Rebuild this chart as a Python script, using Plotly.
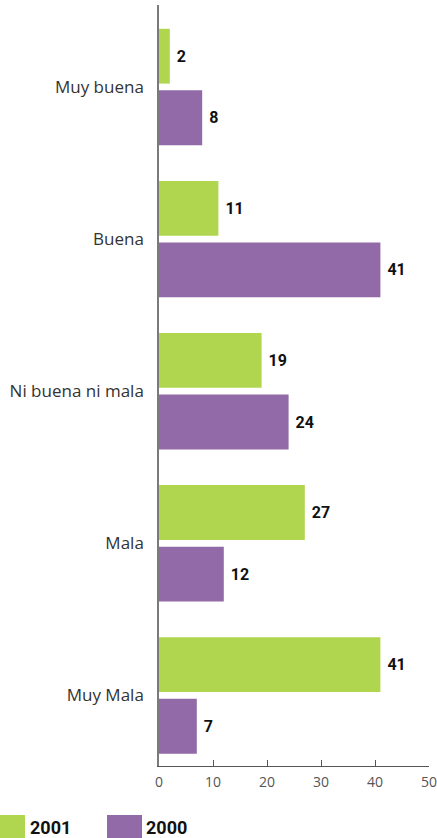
import plotly.graph_objects as go

categories = ["Muy buena", "Buena", "Ni buena ni mala", "Mala", "Muy Mala"]
values_2001 = [2, 11, 19, 27, 41]
values_2000 = [8, 41, 24, 12, 7]
series_names = ["2001", "2000"]
colors = ["#B0D64F", "#926AA8"]
x_ticks = [0, 10, 20, 30, 40, 50]

W, H = 437, 838
L, R, T, B = 159, 8, 5, 838 - 766

num_family = "Roboto, Liberation Sans, sans-serif"

fig = go.Figure()
for name, vals, col in zip(series_names, [values_2001, values_2000], colors):
    fig.add_trace(go.Bar(
        y=categories, x=vals, name=name, orientation="h",
        marker=dict(color=col, line=dict(width=0)),
        text=[str(v) for v in vals], textposition="outside",
        texttemplate="\u00a0%{text}",
        textfont=dict(family=num_family, size=16, color="#111", weight=700),
        cliponaxis=False, showlegend=False, hoverinfo="skip",
    ))

fig.update_layout(
    width=W, height=H,
    margin=dict(l=L, r=R, t=T, b=B, pad=0),
    paper_bgcolor="white", plot_bgcolor="white",
    barmode="group", bargap=0.19, bargroupgap=0.11,
    showlegend=False,
    font=dict(family="Open Sans, sans-serif"),
)
fig.update_yaxes(
    categoryorder="array", categoryarray=categories,
    range=[4.464, -0.539], automargin=False,
    showline=True, linecolor="#7a7a7a", linewidth=1.5,
    ticks="", showgrid=False, zeroline=False,
    tickfont=dict(family="Open Sans, sans-serif", size=17, color="#333"),
    ticklabelstandoff=10,
)
fig.update_xaxes(
    range=[0, 50], tickvals=x_ticks, ticktext=[str(t) for t in x_ticks],
    automargin=False, ticklabeloverflow="allow",
    showline=True, linecolor="#555", linewidth=1.2,
    ticks="inside", ticklen=6, tickcolor="#555", tickwidth=1.2,
    showgrid=False, zeroline=False,
    tickfont=dict(family="Open Sans, sans-serif", size=14, color="#555"),
    ticklabelstandoff=3,
)

# custom legend at bottom-left (page pixel positions)
pw = W - L - R
ph = H - T - B
def px_x(p):
    return (p - L) / pw
def px_y(p):
    return (H - B - p) / ph

legend_items = [(0, 25, 28), (107, 142, 144)]
for (x0, x1, tx), name, col in zip(legend_items, series_names, colors):
    fig.add_shape(type="rect", xref="paper", yref="paper",
                  x0=px_x(x0), x1=px_x(x1), y0=px_y(845), y1=px_y(815),
                  fillcolor=col, line=dict(width=0), layer="above")
    fig.add_annotation(xref="paper", yref="paper", x=px_x(tx), y=px_y(827),
                       text=name, showarrow=False, xanchor="left", yanchor="middle",
                       font=dict(family=num_family, size=18, color="#111", weight=700))

fig.write_html(
    "out.html",
    config={"displayModeBar": False},
    post_script="document.body.style.margin='0';document.body.style.overflow='hidden';",
)
